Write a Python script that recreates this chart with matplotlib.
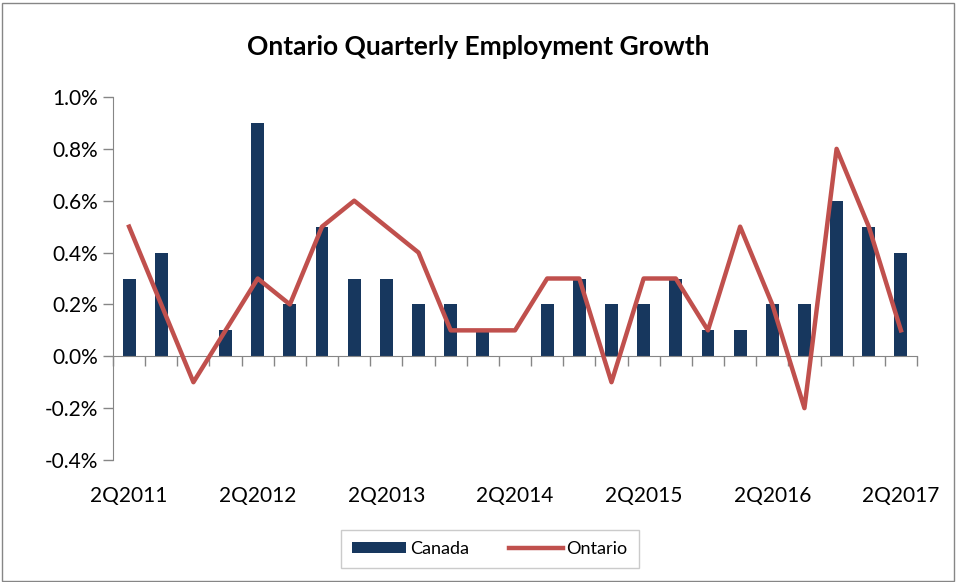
import matplotlib.pyplot as plt
from matplotlib.patches import Rectangle
from matplotlib.ticker import FuncFormatter, MultipleLocator
import matplotlib.transforms as mtransforms
import numpy as np

plt.rcParams['font.family'] = ['Lato', 'DejaVu Sans']

quarters = ['2Q2011', '3Q2011', '4Q2011', '1Q2012', '2Q2012', '3Q2012', '4Q2012',
            '1Q2013', '2Q2013', '3Q2013', '4Q2013', '1Q2014', '2Q2014', '3Q2014',
            '4Q2014', '1Q2015', '2Q2015', '3Q2015', '4Q2015', '1Q2016', '2Q2016',
            '3Q2016', '4Q2016', '1Q2017', '2Q2017']
canada = [0.3, 0.4, 0.0, 0.1, 0.9, 0.2, 0.5, 0.3, 0.3, 0.2, 0.2, 0.1, 0.0, 0.2,
          0.3, 0.2, 0.2, 0.3, 0.1, 0.1, 0.2, 0.2, 0.6, 0.5, 0.4]
ontario = [0.5, 0.2, -0.1, 0.1, 0.3, 0.2, 0.5, 0.6, 0.5, 0.4, 0.1, 0.1, 0.1, 0.3,
           0.3, -0.1, 0.3, 0.3, 0.1, 0.5, 0.2, -0.2, 0.8, 0.5, 0.1]

navy = '#17375E'
red = '#C0504D'

fig = plt.figure(figsize=(9.56, 5.82), dpi=100)
ax = fig.add_axes([113 / 956, 1 - 460 / 582, 804 / 956, 363 / 582])

x = np.arange(len(quarters))
bars = ax.bar(x, canada, width=0.4, color=navy, label='Canada', zorder=2)
line, = ax.plot(x, ontario, color=red, linewidth=3.2, label='Ontario', zorder=3)

ax.set_xlim(-0.5, len(quarters) - 0.5)
ax.set_ylim(-0.4, 1.0)
ax.yaxis.set_major_locator(MultipleLocator(0.2))
ax.yaxis.set_major_formatter(FuncFormatter(lambda v, p: f'{v:.1f}%'))
ax.tick_params(axis='y', direction='out', length=7, width=1, color='#868686',
               labelsize=15, pad=4)

for s in ['top', 'right']:
    ax.spines[s].set_visible(False)
ax.spines['left'].set_color('#868686')
ax.spines['bottom'].set_color('#868686')
ax.spines['bottom'].set_position(('data', 0))

# tick marks on category boundaries, labels every 4th quarter at the bottom
ax.set_xticks(np.arange(-0.5, len(quarters), 1.0))
ax.set_xticklabels([])
ax.tick_params(axis='x', direction='out', length=7, width=1, color='#868686')
trans = mtransforms.blended_transform_factory(ax.transData, ax.transAxes)
for i in range(0, len(quarters), 4):
    ax.text(i, -0.1, quarters[i], transform=trans, ha='center', va='center',
            fontsize=15)

fig.text(0.5, 1 - 47 / 582, 'Ontario Quarterly Employment Growth', ha='center',
         va='center', fontsize=19, fontweight='bold')

leg = fig.legend([bars, line], ['Canada', 'Ontario'], loc='center',
                 bbox_to_anchor=(490 / 956, 1 - 549 / 582), ncol=2,
                 fontsize=13, frameon=True, fancybox=False, edgecolor='#BFBFBF',
                 handlelength=3.0, handleheight=0.5, handletextpad=0.2,
                 columnspacing=2.2, borderpad=0.6, borderaxespad=0)
leg.get_frame().set_linewidth(1)

fig.patches.append(Rectangle((0.002, 0.002), 0.996, 0.993, transform=fig.transFigure,
                             fill=False, edgecolor='#868686', linewidth=1))

fig.savefig('out.png', dpi=100)
